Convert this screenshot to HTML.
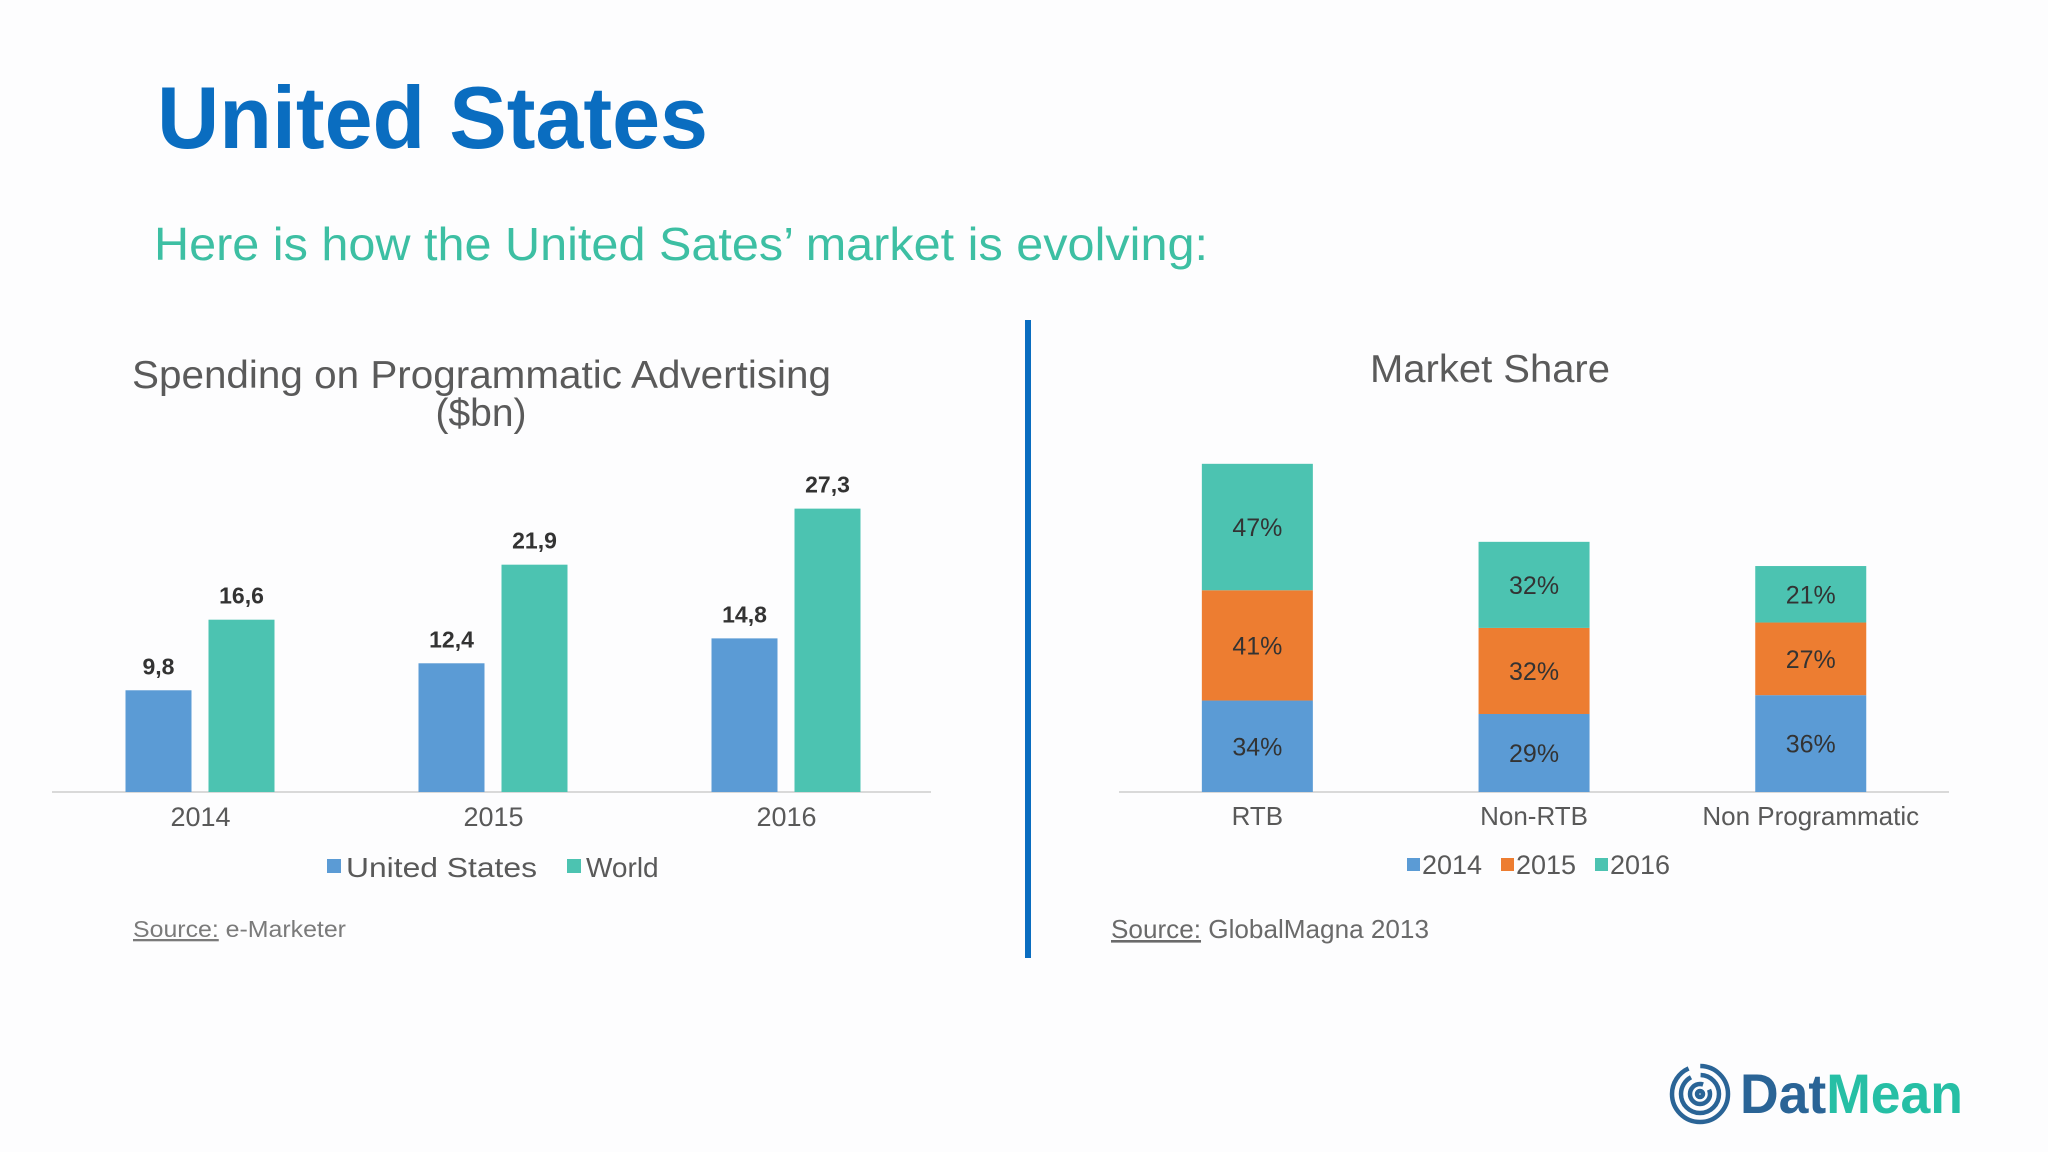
<!DOCTYPE html>
<html><head><meta charset="utf-8"><style>
html,body{margin:0;padding:0;background:#fdfdfe;}
svg{display:block;font-family:"Liberation Sans",sans-serif;}
</style></head><body>
<svg id="s" width="2048" height="1152" viewBox="0 0 2048 1152">
<rect width="2048" height="1152" fill="#fdfdfe"/>
<text x="157" y="148" font-size="88" font-weight="bold" fill="#0a6dc0" textLength="551" lengthAdjust="spacingAndGlyphs">United States</text>
<text x="154" y="260" font-size="46" fill="#3dbfa3" textLength="1054" lengthAdjust="spacingAndGlyphs">Here is how the United Sates’ market is evolving:</text>
<rect x="1025" y="320" width="6" height="638" fill="#0a6dc0"/>
<text x="132" y="388" font-size="39" fill="#5a5a5a" textLength="699" lengthAdjust="spacingAndGlyphs">Spending on Programmatic Advertising</text>
<text x="481" y="426" font-size="39" fill="#5a5a5a" text-anchor="middle">($bn)</text>
<line x1="52" y1="792" x2="931" y2="792" stroke="#d9d9d9" stroke-width="2"/>
<g id="left"></g>
<rect x="327" y="859" width="14" height="14" fill="#5b9bd5"/>
<text x="346" y="877" font-size="28" fill="#595959" textLength="191" lengthAdjust="spacingAndGlyphs">United States</text>
<rect x="567" y="859" width="14" height="14" fill="#4cc3b1"/>
<text x="586" y="877" font-size="28" fill="#595959">World</text>
<text x="133" y="937" font-size="23" fill="#7a7a7a" textLength="213" lengthAdjust="spacingAndGlyphs"><tspan text-decoration="underline">Source:</tspan> e-Marketer</text>
<text x="1370" y="382" font-size="39" fill="#5a5a5a" textLength="240" lengthAdjust="spacingAndGlyphs">Market Share</text>
<line x1="1119" y1="792" x2="1949" y2="792" stroke="#d9d9d9" stroke-width="2"/>
<g id="right"></g>
<rect x="1407" y="858" width="13" height="13" fill="#5b9bd5"/>
<text x="1422" y="874" font-size="27" fill="#595959">2014</text>
<rect x="1501" y="858" width="13" height="13" fill="#ed7d31"/>
<text x="1516" y="874" font-size="27" fill="#595959">2015</text>
<rect x="1595" y="858" width="13" height="13" fill="#4cc3b1"/>
<text x="1610" y="874" font-size="27" fill="#595959">2016</text>
<text x="1111" y="938" font-size="26" fill="#6a6a6a" textLength="318" lengthAdjust="spacingAndGlyphs"><tspan text-decoration="underline">Source:</tspan> GlobalMagna 2013</text>
<g fill="none" stroke="#2a6496" stroke-width="4.5">
<circle cx="1700" cy="1094" r="28" stroke-dasharray="120 12"/>
<circle cx="1700" cy="1094" r="19" stroke-dasharray="80 10"/>
<circle cx="1700" cy="1094" r="10" stroke-dasharray="50 8"/>
<circle cx="1700" cy="1094" r="3"/>
</g>
<text x="1740" y="1113" font-size="56" font-weight="bold" textLength="223" lengthAdjust="spacingAndGlyphs"><tspan fill="#2a6496">Dat</tspan><tspan fill="#26bfa5">Mean</tspan></text>
</svg>
<script>
const years=["2014","2015","2016"];
const usValues=[9.8,12.4,14.8];
const worldValues=[16.6,21.9,27.3];
const usLabels=["9,8","12,4","14,8"];
const worldLabels=["16,6","21,9","27,3"];
const shareCats=["RTB","Non-RTB","Non Programmatic"];
const share2014=[34,29,36];
const share2015=[41,32,27];
const share2016=[47,32,21];
const NS="http://www.w3.org/2000/svg";
function mk(tag,attrs,parent,txt){const e=document.createElementNS(NS,tag);for(const k in attrs)e.setAttribute(k,attrs[k]);if(txt!==undefined)e.textContent=txt;parent.appendChild(e);return e;}
const L=document.getElementById('left');
const lBase=792,lScale=10.38,lX0=54,lStep=293;
const lx=i=>lX0+lStep*(i+0.5);
const ly=v=>lBase-v*lScale;
years.forEach((y,i)=>{
  const c=lx(i);
  const b1=mk('rect',{x:c-75,y:ly(usValues[i]),width:66,height:lBase-ly(usValues[i]),fill:'#5b9bd5'},L);
  
  
  const b2=mk('rect',{x:c+8,y:ly(worldValues[i]),width:66,height:lBase-ly(worldValues[i]),fill:'#4cc3b1'},L);
  
  
  const t1=mk('text',{x:c-42,y:ly(usValues[i])-16,'font-size':23,'font-weight':'bold',fill:'#333','text-anchor':'middle'},L,usLabels[i]);
  
  
  const t2=mk('text',{x:c+41,y:ly(worldValues[i])-16,'font-size':23,'font-weight':'bold',fill:'#333','text-anchor':'middle'},L,worldLabels[i]);
  
  
  const t3=mk('text',{x:c,y:826,'font-size':27,fill:'#595959','text-anchor':'middle'},L,y);
  
  
});
const R=document.getElementById('right');
const rBase=792,rScale=2.69,rX0=1119,rStep=276.7,bw=111;
const rx=i=>rX0+rStep*(i+0.5);
const colors=['#5b9bd5','#ed7d31','#4cc3b1'];
const series=[share2014,share2015,share2016];
shareCats.forEach((cat,i)=>{
  let acc=0;
  series.forEach((s,j)=>{
    const y0=rBase-acc*rScale, h=s[i]*rScale;
    const r=mk('rect',{x:rx(i)-bw/2,y:y0-h,width:bw,height:h,fill:colors[j]},R);
    
    
    const t=mk('text',{x:rx(i),y:y0-h/2+9,'font-size':25,fill:'#333','text-anchor':'middle'},R,s[i]+'%');
    
    
    acc+=s[i];
  });
  const t=mk('text',{x:rx(i),y:825,'font-size':26,fill:'#595959','text-anchor':'middle'},R,cat);
  
  
});
</script>
</body></html>
